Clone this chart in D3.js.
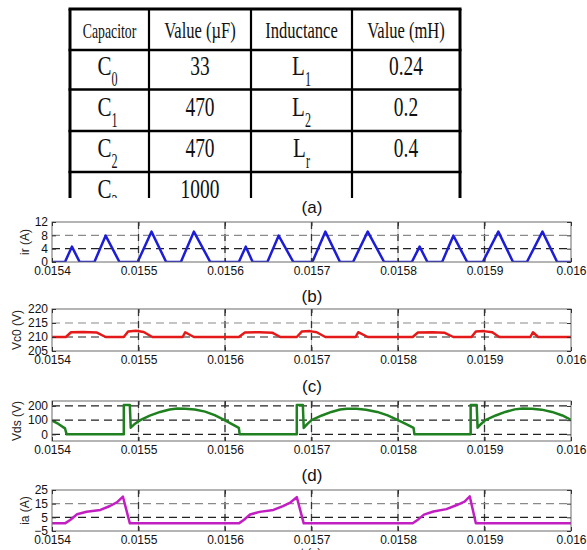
<!DOCTYPE html>
<html>
<head>
<meta charset="utf-8">
<script src="https://cdn.jsdelivr.net/npm/d3@7"></script>
<style>
  body { margin: 0; background: #fff; }
  svg { display: block; }
  .tick text { font-family: "Liberation Sans", Arial, sans-serif; font-size: 12px; fill: #111; }
  .tick line { stroke: #333; }
</style>
</head>
<body>
<svg id="fig" width="587" height="550"></svg>
<script>
// ---------- table data ----------
var tableHeader = ["Capacitor", "Value (µF)", "Inductance", "Value (mH)"];
var capNames = [["C", "0"], ["C", "1"], ["C", "2"], ["C", "3"]];
var capValues = ["33", "470", "470", "1000"];
var indNames = [["L", "1"], ["L", "2"], ["L", "r"], null];
var indValues = ["0.24", "0.2", "0.4", ""];

// ---------- waveform data ----------
var xTicks = [0.0154, 0.0155, 0.0156, 0.0157, 0.0158, 0.0159, 0.016];
var xTickLabels = ["0.0154", "0.0155", "0.0156", "0.0157", "0.0158", "0.0159", "0.016"];

// (a) ir: triangular pulses (start, peak time, end, peak value)
var irStart = [0.015415, 0.015449, 0.015499, 0.015549, 0.015616, 0.015649, 0.015701, 0.015748, 0.015816, 0.015851, 0.015898, 0.015949];
var irPeakT = [0.015423, 0.015462, 0.015515, 0.015564, 0.015624, 0.015662, 0.015716, 0.015765, 0.015825, 0.015864, 0.015916, 0.015967];
var irEnd   = [0.015432, 0.015478, 0.015532, 0.015583, 0.015632, 0.015679, 0.015733, 0.015784, 0.015834, 0.015880, 0.015933, 0.015984];
var irPeak  = [4.6, 7.9, 9.1, 9.1, 4.6, 7.9, 9.1, 9.1, 4.6, 7.9, 9.1, 9.1];

// (b) Vc0 (V)
var vc0Points = [
  [0.015400, 210], [0.015416, 210], [0.015422, 211.7], [0.015436, 211.8], [0.015452, 211.6], [0.015462, 210],
  [0.015483, 210], [0.015488, 212], [0.015497, 212.2], [0.015506, 211.8], [0.015516, 210],
  [0.015551, 210], [0.015554, 211.7], [0.015564, 210],
  [0.015616, 210], [0.015623, 211.6], [0.015640, 211.7], [0.015655, 211.5], [0.015664, 210],
  [0.015683, 210], [0.015689, 212], [0.015698, 212.1], [0.015706, 211.7], [0.015716, 210],
  [0.015751, 210], [0.015754, 211.7], [0.015765, 210],
  [0.015817, 210], [0.015823, 211.6], [0.015840, 211.7], [0.015854, 211.5], [0.015864, 210],
  [0.015885, 210], [0.015890, 212], [0.015899, 212.1], [0.015909, 211.7], [0.015917, 210],
  [0.015953, 210], [0.015956, 211.7], [0.015962, 210],
  [0.016000, 210]
];

// (c) Vds (V)
var vdsPoints = [
  [0.015400, 96], [0.015407, 75], [0.015415, 42], [0.015417, 0], [0.015483, 0], [0.015483, 207], [0.015490, 207],
  [0.015491, 47], [0.015496, 75], [0.015502, 100], [0.015513, 132], [0.015525, 158], [0.015536, 175], [0.015545, 182],
  [0.015554, 181], [0.015565, 175], [0.015577, 160], [0.015588, 135], [0.015599, 102], [0.015608, 72], [0.015616, 45],
  [0.015617, 0], [0.015683, 0], [0.015683, 207], [0.015690, 207],
  [0.015691, 45], [0.015695, 72], [0.015700, 100], [0.015712, 133], [0.015723, 158], [0.015733, 175], [0.015741, 181],
  [0.015752, 181], [0.015763, 174], [0.015776, 158], [0.015788, 134], [0.015800, 100], [0.015810, 70], [0.015818, 45],
  [0.015819, 0], [0.015884, 0], [0.015884, 207], [0.015891, 207],
  [0.015892, 47], [0.015896, 73], [0.015901, 100], [0.015913, 133], [0.015924, 158], [0.015935, 176], [0.015944, 182],
  [0.015955, 181], [0.015966, 174], [0.015978, 158], [0.015990, 133], [0.016000, 102]
];

// (d) ia (A)
var iaPoints = [
  [0.015400, 0.6], [0.015415, 0.6], [0.015421, 3.1], [0.015429, 7.2], [0.015440, 9.1], [0.015456, 10.4],
  [0.015467, 13.3], [0.015475, 16], [0.015482, 20.1], [0.015490, 0.6],
  [0.015616, 0.6], [0.015622, 3.2], [0.015629, 7.1], [0.015640, 9], [0.015656, 10.4],
  [0.015667, 13.2], [0.015676, 16], [0.015683, 19.8], [0.015691, 0.6],
  [0.015817, 0.6], [0.015823, 3.3], [0.015830, 7], [0.015841, 9.3], [0.015856, 11],
  [0.015868, 14], [0.015877, 16.5], [0.015883, 20.3], [0.015890, 0.6],
  [0.016000, 0.6]
];

// build the ir polyline from the pulse lists
var irPoints = [[xTicks[0], 0]];
for (var i = 0; i < irStart.length; i++) {
    irPoints.push([irStart[i], 0]);
    irPoints.push([irPeakT[i], irPeak[i]]);
    irPoints.push([irEnd[i], 0]);
}
irPoints.push([xTicks[xTicks.length - 1], 0]);

var svg = d3.select("#fig");

// ================= table =================
function drawTable() {
    var cols = [70, 149, 251, 352, 460];
    var rows = [9, 50, 89.5, 131, 172, 240];
    var g = svg.append("g");

    svg.append("clipPath").attr("id", "tableClip")
       .append("rect").attr("x", 0).attr("y", 0).attr("width", 587).attr("height", 198);
    g.attr("clip-path", "url(#tableClip)");

    // horizontal rules
    rows.forEach(function(y, i) {
        g.append("line")
         .attr("x1", cols[0] - 1.5).attr("x2", cols[4] + 1.5)
         .attr("y1", y).attr("y2", y)
         .attr("stroke", "#000")
         .attr("stroke-width", i == 0 ? 3.2 : 2.4);
    });
    // vertical rules
    cols.forEach(function(x, i) {
        g.append("line")
         .attr("x1", x).attr("x2", x)
         .attr("y1", rows[0]).attr("y2", 240)
         .attr("stroke", "#000")
         .attr("stroke-width", (i == 0 || i == 4) ? 3 : 2.2);
    });

    var font = "'Liberation Serif', 'Times New Roman', serif";

    // plain squeezed text, centred
    function cellText(cx, baseline, str, size, sx) {
        g.append("text")
         .attr("transform", "translate(" + cx + "," + baseline + ") scale(" + sx + ",1)")
         .attr("text-anchor", "middle")
         .style("font-family", font)
         .style("font-size", size + "px")
         .attr("fill", "#111")
         .text(str);
    }

    // letter with a subscript, centred as a whole
    function subText(cx, baseline, pair) {
        var mainSx = 0.75, subSx = 0.55;
        var main = g.append("text")
                    .style("font-family", font).style("font-size", "28px")
                    .attr("fill", "#111").text(pair[0]);
        var sub = g.append("text")
                   .style("font-family", font).style("font-size", "22px")
                   .attr("fill", "#111").text(pair[1]);
        var wMain = main.node().getComputedTextLength() * mainSx;
        var wSub = sub.node().getComputedTextLength() * subSx;
        var x0 = cx - (wMain + wSub) / 2;
        main.attr("transform", "translate(" + x0 + "," + baseline + ") scale(" + mainSx + ",1)");
        sub.attr("transform", "translate(" + (x0 + wMain) + "," + (baseline + 11) + ") scale(" + subSx + ",1)");
    }

    var centres = [];
    for (var c = 0; c < 4; c++) centres.push((cols[c] + cols[c + 1]) / 2);

    tableHeader.forEach(function(h, c) {
        cellText(centres[c], 38, h, c == 0 ? 20 : 24, 0.69);
    });

    capNames.forEach(function(name, r) {
        var base = 75 + r * 41;
        subText(centres[0] - 2, base, name);
        cellText(centres[1], base, capValues[r], 27, 0.72);
        if (indNames[r]) subText(centres[2], base, indNames[r]);
        cellText(centres[3], base, indValues[r], 27, 0.72);
    });
}
drawTable();

// ================= waveform panels =================
var x = d3.scaleLinear().domain([xTicks[0], xTicks[xTicks.length - 1]]).range([52, 571]);

var panels = [
    { data: irPoints, yDomain: [0, 12], yTicks: [0, 4, 8, 12], yLabel: "ir (A)", tag: "(a)",
      top: 222, bottom: 262, color: "#1d1dd8", grid: [[4, "#222"], [8, "#8a8a8a"]], labelX: 29, tagY: 213 },
    { data: vc0Points, yDomain: [205, 220], yTicks: [205, 210, 215, 220], yLabel: "Vc0 (V)", tag: "(b)",
      top: 309, bottom: 351, color: "#e41a1a", grid: [[210, "#222"], [215, "#8a8a8a"]], labelX: 21, tagY: 302 },
    { data: vdsPoints, yDomain: [-47, 235], yTicks: [0, 100, 200], yLabel: "Vds (V)", tag: "(c)",
      top: 401, bottom: 441, color: "#1e801e", grid: [[0, "#222"], [100, "#222"], [200, "#222"]], labelX: 21, tagY: 392 },
    { data: iaPoints, yDomain: [-5, 25], yTicks: [-5, 5, 15, 25], yLabel: "ia (A)", tag: "(d)",
      top: 490, bottom: 531, color: "#c21fc2", grid: [[5, "#222"], [15, "#8a8a8a"]], labelX: 29, tagY: 481 }
];

var sans = "'Liberation Sans', Arial, sans-serif";

panels.forEach(function(p, k) {
    var y = d3.scaleLinear().domain(p.yDomain).range([p.bottom, p.top]);
    var g = svg.append("g");
    var left = x.range()[0], right = x.range()[1];

    g.append("clipPath").attr("id", "clip" + k)
     .append("rect").attr("x", left).attr("y", p.top)
     .attr("width", right - left).attr("height", p.bottom - p.top);

    // vertical grid
    xTicks.slice(1, -1).forEach(function(t) {
        g.append("line")
         .attr("x1", x(t)).attr("x2", x(t)).attr("y1", p.top).attr("y2", p.bottom)
         .attr("stroke", "#c4c4c4").attr("stroke-width", 1);
        g.append("line")
         .attr("x1", x(t)).attr("x2", x(t)).attr("y1", p.top).attr("y2", p.bottom)
         .attr("stroke", "#333").attr("stroke-width", 1.3)
         .attr("stroke-dasharray", "7,5");
    });

    // horizontal grid
    p.grid.forEach(function(gr) {
        g.append("line")
         .attr("x1", left).attr("x2", right).attr("y1", y(gr[0])).attr("y2", y(gr[0]))
         .attr("stroke", gr[1]).attr("stroke-width", 1.2)
         .attr("stroke-dasharray", "8,5");
    });

    // waveform
    var line = d3.line().x(function(d) { return x(d[0]); }).y(function(d) { return y(d[1]); });
    g.append("path")
     .datum(p.data)
     .attr("clip-path", "url(#clip" + k + ")")
     .attr("d", line)
     .attr("fill", "none")
     .attr("stroke", p.color)
     .attr("stroke-width", 2.5)
     .attr("stroke-linejoin", "round");

    // box
    g.append("rect")
     .attr("x", left).attr("y", p.top)
     .attr("width", right - left).attr("height", p.bottom - p.top)
     .attr("fill", "none").attr("stroke", "#6a6a6a").attr("stroke-width", 1);

    // axes with inward ticks
    var xAxis = d3.axisBottom(x).tickValues(xTicks)
                  .tickFormat(function(d, i) { return xTickLabels[i]; })
                  .tickSizeInner(-4).tickSizeOuter(0).tickPadding(4);
    g.append("g").attr("transform", "translate(0," + p.bottom + ")").call(xAxis)
     .call(function(s) { s.select(".domain").remove(); });

    g.append("g").attr("transform", "translate(0," + p.top + ")")
     .call(d3.axisTop(x).tickValues(xTicks).tickSizeInner(-4).tickSizeOuter(0).tickFormat(""))
     .call(function(s) { s.select(".domain").remove(); });

    var yAxis = d3.axisLeft(y).tickValues(p.yTicks).tickFormat(d3.format("d"))
                  .tickSizeInner(-4).tickSizeOuter(0).tickPadding(4);
    g.append("g").attr("transform", "translate(" + left + ",0)").call(yAxis)
     .call(function(s) { s.select(".domain").remove(); });

    g.append("g").attr("transform", "translate(" + right + ",0)")
     .call(d3.axisRight(y).tickValues(p.yTicks).tickSizeInner(-4).tickSizeOuter(0).tickFormat(""))
     .call(function(s) { s.select(".domain").remove(); });

    g.selectAll(".tick text").style("font-family", sans).style("font-size", "12px");

    // y label
    g.append("text")
     .attr("transform", "translate(" + p.labelX + "," + ((p.top + p.bottom) / 2) + ") rotate(-90)")
     .attr("text-anchor", "middle")
     .style("font-family", sans).style("font-size", "12px")
     .attr("fill", "#222")
     .text(p.yLabel);

    // panel tag
    svg.append("text")
       .attr("x", 312).attr("y", p.tagY)
       .attr("text-anchor", "middle")
       .style("font-family", sans).style("font-size", "17px")
       .attr("fill", "#111")
       .text(p.tag);
});

// x label, cut off by the bottom edge
svg.append("text")
   .attr("x", 311).attr("y", 557)
   .attr("text-anchor", "middle")
   .style("font-family", sans).style("font-size", "12px")
   .attr("fill", "#222")
   .text("t (s)");
</script>
</body>
</html>
